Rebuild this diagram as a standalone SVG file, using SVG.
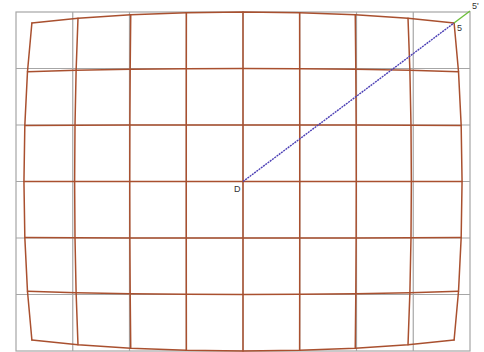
<svg xmlns="http://www.w3.org/2000/svg" width="484" height="352" viewBox="0 0 484 352">
<style>
.g{fill:none;stroke:#a6a6a6;stroke-width:1.2}
.r{fill:none;stroke:#a9502f;stroke-width:1.5;stroke-linejoin:round;stroke-linecap:round}
.lbl{font-family:"Liberation Sans",Arial,sans-serif;font-size:9px;fill:#333}
</style>
<rect width="484" height="352" fill="#ffffff"/>
<g id="reference-grid">
<rect class="g" x="16" y="12" width="454" height="339"/>
<path class="g" d="M72.75 12V351M129.5 12V351M186.25 12V351M243 12V351M299.75 12V351M356.5 12V351M413.25 12V351M16 68.5H470M16 125H470M16 181.5H470M16 238H470M16 294.5H470"/>
</g>
<g id="distorted-grid">
<polyline class="r" points="31.89,23.02 77.99,18.2 130.74,14.75 186.38,12.69 243,12 299.62,12.69 355.26,14.75 408.01,18.2 454.11,23.02"/>
<polyline class="r" points="27.48,71.76 76.12,70.34 130.19,69.32 186.31,68.7 243,68.5 299.69,68.7 355.81,69.32 409.88,70.34 458.52,71.76"/>
<polyline class="r" points="24.83,125.41 75,125.23 129.86,125.1 186.27,125.02 243,125 299.73,125.02 356.14,125.1 411,125.23 461.17,125.41"/>
<polyline class="r" points="23.94,181.5 74.63,181.5 129.75,181.5 186.26,181.5 243,181.5 299.74,181.5 356.25,181.5 411.37,181.5 462.06,181.5"/>
<polyline class="r" points="24.83,237.59 75,237.77 129.86,237.9 186.27,237.98 243,238 299.73,237.98 356.14,237.9 411,237.77 461.17,237.59"/>
<polyline class="r" points="27.48,291.24 76.12,292.66 130.19,293.68 186.31,294.3 243,294.5 299.69,294.3 355.81,293.68 409.88,292.66 458.52,291.24"/>
<polyline class="r" points="31.89,339.98 77.99,344.8 130.74,348.25 186.38,350.31 243,351 299.62,350.31 355.26,348.25 408.01,344.8 454.11,339.98"/>
<polyline class="r" points="31.89,23.02 27.48,71.76 24.83,125.41 23.94,181.5 24.83,237.59 27.48,291.24 31.89,339.98"/>
<polyline class="r" points="77.99,18.2 76.12,70.34 75,125.23 74.63,181.5 75,237.77 76.12,292.66 77.99,344.8"/>
<polyline class="r" points="130.74,14.75 130.19,69.32 129.86,125.1 129.75,181.5 129.86,237.9 130.19,293.68 130.74,348.25"/>
<polyline class="r" points="186.38,12.69 186.31,68.7 186.27,125.02 186.26,181.5 186.27,237.98 186.31,294.3 186.38,350.31"/>
<polyline class="r" points="243,12 243,68.5 243,125 243,181.5 243,238 243,294.5 243,351"/>
<polyline class="r" points="299.62,12.69 299.69,68.7 299.73,125.02 299.74,181.5 299.73,237.98 299.69,294.3 299.62,350.31"/>
<polyline class="r" points="355.26,14.75 355.81,69.32 356.14,125.1 356.25,181.5 356.14,237.9 355.81,293.68 355.26,348.25"/>
<polyline class="r" points="408.01,18.2 409.88,70.34 411,125.23 411.37,181.5 411,237.77 409.88,292.66 408.01,344.8"/>
<polyline class="r" points="454.11,23.02 458.52,71.76 461.17,125.41 462.06,181.5 461.17,237.59 458.52,291.24 454.11,339.98"/>
</g>
<g id="connectors">
<line x1="243" y1="181.5" x2="454" y2="23" stroke="#4b3fb5" stroke-width="1.4" stroke-dasharray="2 0.8"/>
<line x1="454" y1="23" x2="470" y2="11" stroke="#6cbf3a" stroke-width="1.4"/>
</g>
<g id="labels">
<text class="lbl" x="234" y="192">D</text>
<text class="lbl" x="457" y="31">5</text>
<text class="lbl" x="472" y="9">5'</text>
</g>
</svg>
